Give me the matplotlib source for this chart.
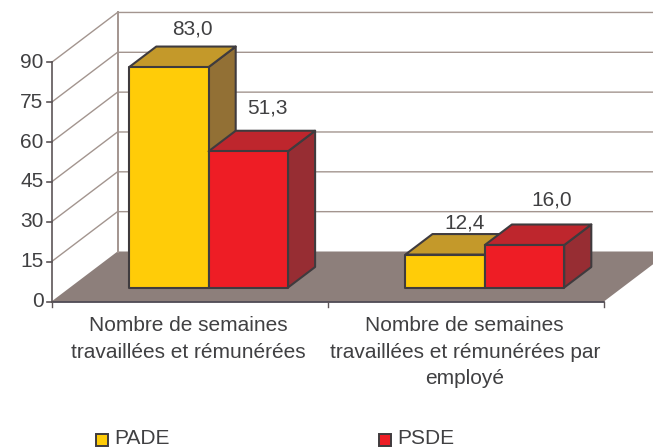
import matplotlib
matplotlib.use("Agg")
import matplotlib.pyplot as plt
from matplotlib.patches import Polygon, Rectangle

categories = ["Nombre de semaines\ntravaillées et rémunérées",
              "Nombre de semaines\ntravaillées et rémunérées par\nemployé"]
series_names = ["PADE", "PSDE"]
pade = [83.0, 12.4]
psde = [51.3, 16.0]
y_ticks = [0, 15, 30, 45, 60, 75, 90]

plt.rcParams["font.family"] = ["Liberation Sans", "DejaVu Sans"]
TXT = "#404042"
EDGE = "#3f3b3e"
GRID = "#a3958f"
AXIS = "#5c5557"
FS = 15

# fake 3d scales, all in image pixels
X0, Y0 = 51.5, 301.5
CAT_W = 276.2
UNIT = 2.656
DX, DY = 66.0, -50.0
BAR_D0, BAR_D1 = 0.28, 0.69
BAR_W = 0.2875


def proj(cat, val, depth=0.0):
    return (X0 + cat * CAT_W + depth * DX, Y0 - val * UNIT + depth * DY)


fig = plt.figure(figsize=(6.53, 4.47), dpi=100)
ax = fig.add_axes([0, 0, 1, 1])
ax.set_xlim(0, 653)
ax.set_ylim(447, 0)
ax.axis("off")

# floor
ax.add_patch(Polygon([proj(0, 0), proj(2, 0), proj(2, 0, 1), proj(0, 0, 1)],
                     fc="#8d7f7b", ec="none", zorder=1))

# gridlines on side wall and back wall
for v in y_ticks:
    if v > 0:
        ax.plot(*zip(proj(0, v), proj(0, v, 1), proj(2, v, 1)), color=GRID, lw=1.0, zorder=2,
                solid_joinstyle="miter")
ax.plot(*zip(proj(0, 0, 1), proj(0, 90, 1)), color=GRID, lw=1.4, zorder=2)

# axis lines and ticks
ax.plot(*zip(proj(0, 0), proj(0, 90)), color=AXIS, lw=1.2, zorder=3)
ax.plot(*zip(proj(0, 0), proj(2, 0)), color="#3f3b45", lw=1.2, zorder=3)
for v in y_ticks:
    x, y = proj(0, v)
    ax.plot([x - 5, x], [y, y], color=AXIS, lw=1.2, zorder=3)
    ax.text(x - 8, y, str(v), ha="right", va="center", fontsize=FS, color=TXT)
for c in range(3):
    x, y = proj(c, 0)
    ax.plot([x, x], [y, y + 5], color=AXIS, lw=1.0, zorder=3)


def bar3d(cat, val, front, top, side):
    l, r = cat, cat + BAR_W
    style = dict(ec=EDGE, lw=1.5, joinstyle="round", zorder=5)
    ax.add_patch(Polygon([proj(r, 0, BAR_D0), proj(r, 0, BAR_D1), proj(r, val, BAR_D1), proj(r, val, BAR_D0)],
                         fc=side, **style))
    ax.add_patch(Polygon([proj(l, val, BAR_D0), proj(r, val, BAR_D0), proj(r, val, BAR_D1), proj(l, val, BAR_D1)],
                         fc=top, **style))
    ax.add_patch(Polygon([proj(l, 0, BAR_D0), proj(r, 0, BAR_D0), proj(r, val, BAR_D0), proj(l, val, BAR_D0)],
                         fc=front, **style))


gap = (1 - 2 * BAR_W) / 2 + 0.002
for i in range(2):
    bar3d(i + gap, pade[i], "#ffcc08", "#c4992a", "#927035")
    bar3d(i + gap + BAR_W, psde[i], "#ee1d25", "#be262d", "#972d33")

# value labels, each one nudged by hand from its bar
pade_shift = [(-3.5, -18), (-7.5, -11)]
psde_shift = [(-7.5, -23), (0, -25)]
for i in range(2):
    for vals, off, shift in ((pade, 0, pade_shift), (psde, 1, psde_shift)):
        x, y = proj(i + gap + BAR_W * (off + 0.5), vals[i], BAR_D1)
        ax.text(x + shift[i][0], y + shift[i][1], f"{vals[i]:.1f}".replace(".", ","),
                ha="center", va="center", fontsize=FS, color=TXT, zorder=6)

# category labels
for i, name in enumerate(categories):
    ax.text(proj(i + 0.5, 0)[0] - 1, 316, name, ha="center", va="top", fontsize=FS, color=TXT,
            linespacing=1.5)

# legend
for name, col, x in zip(series_names, ["#ffcc08", "#ee1d25"], [96, 379]):
    ax.add_patch(Rectangle((x, 434), 12, 12, fc=col, ec=EDGE, lw=1.4))
    ax.text(x + 18.5, 438.5, name, ha="left", va="center", fontsize=FS, color=TXT)

fig.savefig("out.png", dpi=100)
